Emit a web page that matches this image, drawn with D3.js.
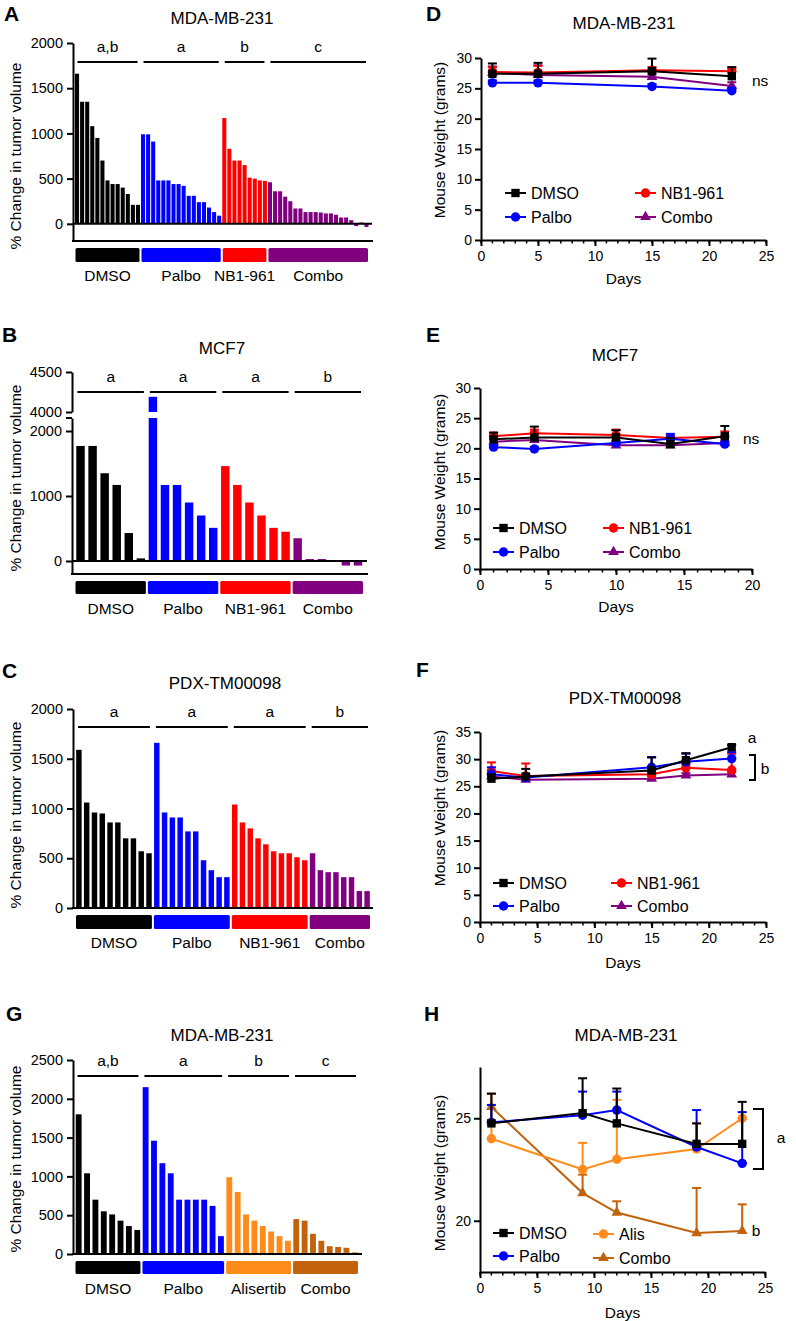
<!DOCTYPE html>
<html>
<head>
<meta charset="utf-8">
<script src="https://cdn.jsdelivr.net/npm/d3@7"></script>
<style>
  body { margin: 0; background: #fff; }
  svg { font-family: "Liberation Sans", Arial, sans-serif; }
</style>
</head>
<body>
<svg id="fig" width="796" height="1321"></svg>
<script>
// ---------- data: waterfall panels (% change in tumor volume) ----------
var groupsNB = ["DMSO", "Palbo", "NB1-961", "Combo"];
var groupsAlis = ["DMSO", "Palbo", "Alisertib", "Combo"];
var colorsNB = ["#000000", "#0000ff", "#ff0000", "#800080"];
var colorsAlis = ["#000000", "#0000ff", "#ff8c1a", "#c2620c"];

// A: MDA-MB-231
var aDmso = [1660, 1350, 1350, 1080, 950, 700, 480, 440, 440, 400, 330, 210, 210];
var aPalbo = [990, 990, 910, 480, 480, 480, 440, 440, 420, 310, 310, 240, 240, 180, 130, 90];
var aNb1 = [1170, 830, 700, 700, 650, 510, 500, 480, 475];
var aCombo = [460, 360, 360, 300, 250, 170, 170, 130, 130, 130, 125, 115, 115, 100, 70, 70, 40, -25, 15, -35];
var aLetters = ["a,b", "a", "b", "c"];
var aTicks = [0, 500, 1000, 1500, 2000];

// B: MCF7 (broken axis)
var bDmso = [1770, 1770, 1350, 1170, 430, 40];
var bPalbo = [4190, 1170, 1170, 900, 700, 510];
var bNb1 = [1460, 1170, 900, 700, 510, 450];
var bCombo = [350, 30, 30, 0, -70, -70];
var bLetters = ["a", "a", "a", "b"];
var bTicksLow = [0, 1000, 2000];
var bTicksHigh = [4000, 4500];

// C: PDX-TM00098
var cDmso = [1590, 1060, 960, 950, 860, 860, 700, 700, 570, 550];
var cPalbo = [1660, 960, 910, 910, 770, 770, 480, 380, 310, 310];
var cNb1 = [1040, 860, 800, 700, 640, 570, 550, 550, 510, 480];
var cCombo = [550, 380, 360, 360, 310, 310, 170, 170];
var cLetters = ["a", "a", "a", "b"];
var cTicks = [0, 500, 1000, 1500, 2000];

// G: MDA-MB-231 with alisertib
var gDmso = [1800, 1040, 700, 550, 510, 430, 360, 310];
var gPalbo = [2150, 1460, 1170, 1040, 700, 700, 700, 700, 620, 230];
var gAlis = [990, 800, 510, 430, 360, 290, 230, 170];
var gCombo = [450, 430, 260, 170, 100, 90, 80, 20];
var gLetters = ["a,b", "a", "b", "c"];
var gTicks = [0, 500, 1000, 1500, 2000, 2500];

// ---------- data: mouse weight panels (mean, SEM) ----------
var dDays = [1, 5, 15, 22];
var dDmso = [27.4, 27.4, 27.8, 27.0], dDmsoSem = [1.7, 1.8, 2.1, 1.5];
var dNb1 = [27.7, 27.6, 28.0, 27.8], dNb1Sem = [0.8, 1.1, 0.5, 0.5];
var dPalbo = [25.9, 25.9, 25.3, 24.6], dPalboSem = [0.4, 0.4, 0.4, 0.5];
var dCombo = [27.6, 27.2, 26.9, 25.4], dComboSem = [1.0, 1.6, 0.5, 0.6];

var eDays = [1, 4, 10, 14, 18];
var eDmso = [21.5, 21.8, 21.8, 20.7, 22.0], eDmsoSem = [1.1, 1.8, 1.2, 1.0, 1.7];
var eNb1 = [22.0, 22.5, 22.2, 21.7, 21.9], eNb1Sem = [0.6, 0.6, 0.9, 0.4, 0.9];
var ePalbo = [20.2, 19.9, 20.9, 21.6, 20.7], ePalboSem = [0.3, 0.3, 0.3, 0.8, 0.3];
var eCombo = [21.1, 21.4, 20.5, 20.5, 20.9], eComboSem = [0.4, 0.3, 0.3, 0.3, 0.3];

var fDays = [1, 4, 15, 18, 22];
var fDmso = [26.4, 26.8, 27.9, 29.8, 32.2], fDmsoSem = [0.8, 1.4, 2.4, 1.3, 0.4];
var fNb1 = [27.8, 26.9, 27.2, 28.4, 28.0], fNb1Sem = [1.6, 2.3, 0.6, 0.6, 3.0];
var fPalbo = [27.2, 26.6, 28.5, 29.5, 30.1], fPalboSem = [1.3, 0.6, 1.9, 1.5, 1.2];
var fCombo = [26.8, 26.2, 26.4, 27.0, 27.2], fComboSem = [0.4, 0.4, 0.4, 0.4, 0.4];

var hDays = [1, 9, 12, 19, 23];
var hDmso = [24.75, 25.25, 24.75, 23.75, 23.75], hDmsoSem = [1.45, 1.7, 1.7, 1.0, 2.05];
var hPalbo = [24.8, 25.15, 25.4, 23.6, 22.8], hPalboSem = [0.85, 1.15, 0.9, 1.8, 2.5];
var hAlis = [24.0, 22.5, 23.0, 23.5, 25.0], hAlisSem = [0.9, 1.3, 2.9, 1.25, 0];
var hCombo = [25.55, 21.35, 20.4, 19.4, 19.5], hComboSem = [0.65, 0.9, 0.55, 2.2, 1.3];

var svg = d3.select("#fig");

function styleAxis(g, fontSize) {
  g.attr("font-family", null).attr("font-size", null);
  g.selectAll("path").attr("stroke", "#000").attr("stroke-width", 2);
  g.selectAll("line").attr("stroke", "#000").attr("stroke-width", 2);
  g.selectAll("text").attr("fill", "#000").style("font-size", fontSize + "px");
}

function addText(x, y, str, size, anchor, weight) {
  return svg.append("text")
    .attr("x", x).attr("y", y)
    .attr("text-anchor", anchor || "middle")
    .attr("dominant-baseline", "central")
    .style("font-size", size + "px")
    .style("font-weight", weight || "normal")
    .text(str);
}

function addVLabel(x, y, str, size) {
  svg.append("text")
    .attr("transform", "translate(" + x + "," + y + ") rotate(-90)")
    .attr("text-anchor", "middle")
    .attr("dominant-baseline", "central")
    .style("font-size", size + "px")
    .text(str);
}

// waterfall chart. cfg holds layout, groups hold values
function drawWaterfall(cfg) {
  var bars = [];
  cfg.values.forEach(function (vals, gi) {
    vals.forEach(function (v) { bars.push({ g: gi, v: v }); });
  });
  var band = d3.scaleBand().domain(d3.range(bars.length))
    .range([cfg.x0, cfg.x1]).paddingInner(cfg.pad).paddingOuter(cfg.pad / 2);

  var y = d3.scaleLinear().domain(cfg.yDomain).range([cfg.yBottom, cfg.yTop]);
  var yHigh = cfg.high ? d3.scaleLinear().domain(cfg.high.domain).range(cfg.high.range) : null;
  var cut = cfg.yDomain[1];

  // bars
  bars.forEach(function (d, i) {
    var top = Math.min(d.v, cut);
    svg.append("rect")
      .attr("x", band(i)).attr("width", band.bandwidth())
      .attr("y", y(Math.max(top, 0)))
      .attr("height", Math.abs(y(top) - y(0)))
      .attr("fill", cfg.colors[d.g]);
    if (yHigh && d.v > cut) {
      svg.append("rect")
        .attr("x", band(i)).attr("width", band.bandwidth())
        .attr("y", yHigh(d.v))
        .attr("height", yHigh(cfg.high.domain[0]) - yHigh(d.v))
        .attr("fill", cfg.colors[d.g]);
    }
  });

  // y axis
  var ax = svg.append("g").attr("transform", "translate(" + cfg.axisX + ",0)")
    .call(d3.axisLeft(y).tickValues(cfg.ticks).tickFormat(d3.format("d"))
      .tickSize(6).tickPadding(4).tickSizeOuter(0));
  styleAxis(ax, 14.5);
  if (yHigh) {
    var ax2 = svg.append("g").attr("transform", "translate(" + cfg.axisX + ",0)")
      .call(d3.axisLeft(yHigh).tickValues(cfg.high.ticks).tickFormat(d3.format("d"))
        .tickSize(6).tickPadding(4).tickSizeOuter(0));
    styleAxis(ax2, 14.5);
    // break mark at top of lower segment
    svg.append("line")
      .attr("x1", cfg.axisX - 6).attr("x2", cfg.axisX)
      .attr("y1", y(cut)).attr("y2", y(cut))
      .attr("stroke", "#000").attr("stroke-width", 2);
  }

  // bottom line and zero line
  svg.append("line")
    .attr("x1", cfg.axisX - 1).attr("x2", cfg.axisEnd)
    .attr("y1", cfg.yBottom).attr("y2", cfg.yBottom)
    .attr("stroke", "#000").attr("stroke-width", 2);
  if (cfg.yDomain[0] < 0) {
    svg.append("line")
      .attr("x1", cfg.axisX).attr("x2", cfg.axisEnd - 1)
      .attr("y1", y(0)).attr("y2", y(0))
      .attr("stroke", "#000").attr("stroke-width", 2);
  }

  // group boxes, labels, significance lines
  var start = 0;
  cfg.values.forEach(function (vals, gi) {
    var gx0 = band(start) - band.step() * cfg.pad / 2;
    var gx1 = band(start + vals.length - 1) + band.bandwidth() + band.step() * cfg.pad / 2;
    start += vals.length;
    var mid = (gx0 + gx1) / 2;
    svg.append("rect")
      .attr("x", gx0 + 1).attr("y", cfg.boxY)
      .attr("width", gx1 - gx0 - 2).attr("height", cfg.boxH)
      .attr("rx", 1.5)
      .attr("fill", cfg.colors[gi]);
    addText(mid, cfg.labelY, cfg.groups[gi], 15.5);
    svg.append("line")
      .attr("x1", gx0 + 3).attr("x2", gx1 - 3)
      .attr("y1", cfg.sigY).attr("y2", cfg.sigY)
      .attr("stroke", "#000").attr("stroke-width", 1.8);
    addText(mid, cfg.sigY - 16, cfg.letters[gi], 15.5);
  });

  addText(cfg.titleX, cfg.titleY, cfg.title, 17);
  addVLabel(15, cfg.labelMid, "% Change in tumor volume", 15.5);
  svg.append("text").attr("x", cfg.tagX).attr("y", cfg.tagY)
    .style("font-size", "21px").style("font-weight", "bold").text(cfg.tag);
}

// mouse weight chart
function drawWeights(cfg) {
  var x = d3.scaleLinear().domain(cfg.xDomain).range([cfg.left, cfg.right]);
  var y = d3.scaleLinear().domain(cfg.yDomain).range([cfg.bottom, cfg.top]);

  // minor day ticks
  svg.append("g").selectAll("line")
    .data(d3.range(cfg.xDomain[0], cfg.xDomain[1] + 1))
    .enter().append("line")
    .attr("x1", function (d) { return x(d); })
    .attr("x2", function (d) { return x(d); })
    .attr("y1", cfg.bottom).attr("y2", cfg.bottom + 3.5)
    .attr("stroke", "#000").attr("stroke-width", 1.5);

  var xa = svg.append("g").attr("transform", "translate(0," + cfg.bottom + ")")
    .call(d3.axisBottom(x).tickValues(cfg.xTicks).tickSize(6).tickPadding(5).tickSizeOuter(0));
  styleAxis(xa, 14);
  var ya = svg.append("g").attr("transform", "translate(" + cfg.left + ",0)")
    .call(d3.axisLeft(y).tickValues(cfg.yTicks).tickSize(6).tickPadding(3).tickSizeOuter(0));
  styleAxis(ya, 14);

  var line = d3.line()
    .x(function (d) { return x(d[0]); })
    .y(function (d) { return y(d[1]); });

  // draw back to front
  cfg.series.slice().reverse().forEach(function (s) {
    var pts = cfg.days.map(function (d, i) { return [d, s.mean[i], s.sem[i]]; });
    pts.forEach(function (p) {
      if (p[2] <= 0) return;
      svg.append("line")
        .attr("x1", x(p[0])).attr("x2", x(p[0]))
        .attr("y1", y(p[1])).attr("y2", y(p[1] + p[2]))
        .attr("stroke", s.color).attr("stroke-width", 2);
      svg.append("line")
        .attr("x1", x(p[0]) - 4.5).attr("x2", x(p[0]) + 4.5)
        .attr("y1", y(p[1] + p[2])).attr("y2", y(p[1] + p[2]))
        .attr("stroke", s.color).attr("stroke-width", 2);
    });
    svg.append("path").datum(pts)
      .attr("d", line)
      .attr("fill", "none").attr("stroke", s.color).attr("stroke-width", 2);
    svg.append("g").selectAll("path").data(pts).enter().append("path")
      .attr("transform", function (p) { return "translate(" + x(p[0]) + "," + y(p[1]) + ")"; })
      .attr("d", d3.symbol().type(s.symbol).size(s.size))
      .attr("fill", s.color);
  });

  // legend
  cfg.series.forEach(function (s, i) {
    var lx = cfg.legend[i][0], ly = cfg.legend[i][1];
    svg.append("line")
      .attr("x1", lx).attr("x2", lx + 21)
      .attr("y1", ly).attr("y2", ly)
      .attr("stroke", s.color).attr("stroke-width", 2);
    svg.append("path")
      .attr("transform", "translate(" + (lx + 10.5) + "," + ly + ")")
      .attr("d", d3.symbol().type(s.symbol).size(s.size))
      .attr("fill", s.color);
    addText(lx + 26, ly, s.name, 16, "start");
  });

  addText((cfg.left + cfg.right) / 2, cfg.daysY, "Days", 15.5);
  addVLabel(439, cfg.labelY, "Mouse Weight (grams)", 15.5);
  addText(cfg.titleX, cfg.titleY, cfg.title, 17);
  svg.append("text").attr("x", cfg.tagX).attr("y", cfg.tagY)
    .style("font-size", "21px").style("font-weight", "bold").text(cfg.tag);
}

function series(names, colors, means, sems) {
  var symbols = [d3.symbolSquare, d3.symbolCircle, d3.symbolCircle, d3.symbolTriangle];
  var sizes = [70, 70, 70, 50];
  return names.map(function (n, i) {
    return { name: n, color: colors[i], mean: means[i], sem: sems[i], symbol: symbols[i], size: sizes[i] };
  });
}

// ---------- panels ----------
drawWaterfall({
  tag: "A", tagX: 4, tagY: 21, title: "MDA-MB-231", titleX: 222, titleY: 18,
  groups: groupsNB, colors: colorsNB, letters: aLetters,
  values: [aDmso, aPalbo, aNb1, aCombo],
  x0: 74.5, x1: 369, pad: 0.2, axisX: 73, axisEnd: 373,
  yDomain: [-190, 2000], yBottom: 241, yTop: 43, ticks: aTicks, labelMid: 156,
  boxY: 248, boxH: 14, labelY: 275, sigY: 62
});

drawWaterfall({
  tag: "B", tagX: 2, tagY: 342, title: "MCF7", titleX: 222, titleY: 348,
  groups: groupsNB, colors: colorsNB, letters: bLetters,
  values: [bDmso, bPalbo, bNb1, bCombo],
  x0: 74.5, x1: 364, pad: 0.3, axisX: 72, axisEnd: 368,
  yDomain: [-200, 2200], yBottom: 574, yTop: 418, ticks: bTicksLow, labelMid: 478,
  high: { domain: [4000, 4500], range: [412, 372], ticks: bTicksHigh },
  boxY: 581, boxH: 13, labelY: 608, sigY: 392
});

drawWaterfall({
  tag: "C", tagX: 2, tagY: 678, title: "PDX-TM00098", titleX: 225, titleY: 683,
  groups: groupsNB, colors: colorsNB, letters: cLetters,
  values: [cDmso, cPalbo, cNb1, cCombo],
  x0: 75, x1: 371, pad: 0.3, axisX: 73, axisEnd: 373,
  yDomain: [0, 2000], yBottom: 908, yTop: 709, ticks: cTicks, labelMid: 815,
  boxY: 915, boxH: 14, labelY: 942, sigY: 727
});

drawWaterfall({
  tag: "G", tagX: 6, tagY: 1021, title: "MDA-MB-231", titleX: 222, titleY: 1035,
  groups: groupsAlis, colors: colorsAlis, letters: gLetters,
  values: [gDmso, gPalbo, gAlis, gCombo],
  x0: 74.5, x1: 359, pad: 0.3, axisX: 73, axisEnd: 362,
  yDomain: [0, 2500], yBottom: 1254, yTop: 1060, ticks: gTicks, labelMid: 1159,
  boxY: 1261, boxH: 13, labelY: 1288, sigY: 1076
});

var nbNames = ["DMSO", "Palbo", "NB1-961", "Combo"];
var nbColors = ["#000000", "#0000ff", "#ff0000", "#800080"];

drawWeights({
  tag: "D", tagX: 426, tagY: 21, title: "MDA-MB-231", titleX: 624, titleY: 23,
  days: dDays, xDomain: [0, 25], xTicks: [0, 5, 10, 15, 20, 25],
  yDomain: [0, 30], yTicks: [0, 5, 10, 15, 20, 25, 30],
  left: 481, right: 766, bottom: 240, top: 58, daysY: 278, labelY: 140,
  series: series(nbNames, nbColors, [dDmso, dPalbo, dNb1, dCombo], [dDmsoSem, dPalboSem, dNb1Sem, dComboSem]),
  legend: [[505, 193], [505, 217], [635, 193], [635, 217]]
});
addText(752, 80, "ns", 15.5, "start");

drawWeights({
  tag: "E", tagX: 426, tagY: 342, title: "MCF7", titleX: 615, titleY: 355,
  days: eDays, xDomain: [0, 20], xTicks: [0, 5, 10, 15, 20],
  yDomain: [0, 30], yTicks: [0, 5, 10, 15, 20, 25, 30],
  left: 480, right: 752, bottom: 569, top: 388, daysY: 606, labelY: 472,
  series: series(nbNames, nbColors, [eDmso, ePalbo, eNb1, eCombo], [eDmsoSem, ePalboSem, eNb1Sem, eComboSem]),
  legend: [[493, 528], [493, 552], [603, 528], [603, 552]]
});
addText(743, 438, "ns", 15.5, "start");

drawWeights({
  tag: "F", tagX: 416, tagY: 677, title: "PDX-TM00098", titleX: 625, titleY: 698,
  days: fDays, xDomain: [0, 25], xTicks: [0, 5, 10, 15, 20, 25],
  yDomain: [0, 35], yTicks: [0, 5, 10, 15, 20, 25, 30, 35],
  left: 480, right: 766, bottom: 922, top: 732, daysY: 962, labelY: 808,
  series: series(nbNames, nbColors, [fDmso, fPalbo, fNb1, fCombo], [fDmsoSem, fPalboSem, fNb1Sem, fComboSem]),
  legend: [[493, 883], [493, 906], [611, 883], [611, 906]]
});
addText(752, 737, "a", 15.5);
svg.append("path").attr("d", "M749,755H755V780H749").attr("fill", "none").attr("stroke", "#000").attr("stroke-width", 2);
addText(765, 768, "b", 15.5);

drawWeights({
  tag: "H", tagX: 424, tagY: 1021, title: "MDA-MB-231", titleX: 626, titleY: 1035,
  days: hDays, xDomain: [0, 25], xTicks: [0, 5, 10, 15, 20, 25],
  yDomain: [17.5, 27.5], yTicks: [20, 25],
  left: 480, right: 765, bottom: 1272, top: 1067, daysY: 1312, labelY: 1173,
  series: series(["DMSO", "Palbo", "Alis", "Combo"], ["#000000", "#0000ff", "#ff8c1a", "#c2620c"],
    [hDmso, hPalbo, hAlis, hCombo], [hDmsoSem, hPalboSem, hAlisSem, hComboSem]),
  legend: [[493, 1233], [493, 1256], [593, 1234], [593, 1258]]
});
svg.append("path").attr("d", "M753,1109H763V1169H753").attr("fill", "none").attr("stroke", "#000").attr("stroke-width", 2);
addText(781, 1137, "a", 15.5);
addText(756, 1230, "b", 15.5);
</script>
</body>
</html>
